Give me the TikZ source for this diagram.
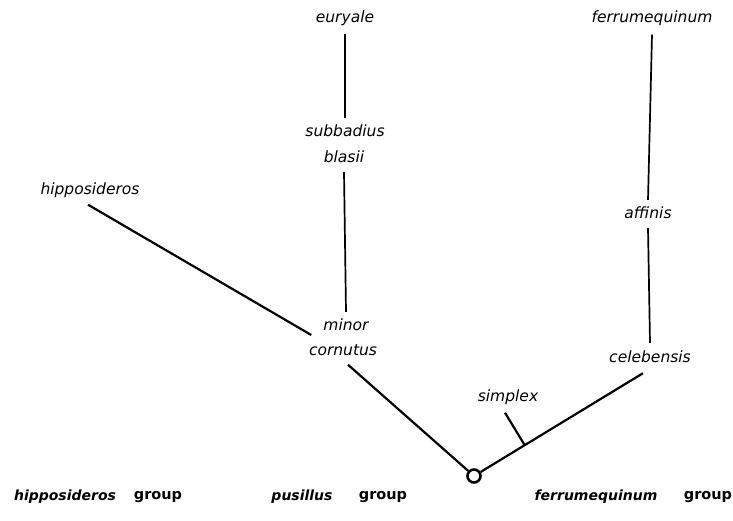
\documentclass[tikz,border=0pt]{standalone}
\usepackage{fontspec}
\setmainfont{DejaVu Sans}
\usetikzlibrary{calc}
\begin{document}
\begin{tikzpicture}[x=1pt,y=-1pt,
  lab/.style={inner sep=0pt,font=\fontsize{15.5}{17}\selectfont\itshape},
  grp/.style={inner sep=0pt,font=\fontsize{14}{16}\selectfont\bfseries\itshape},
  grpw/.style={inner sep=0pt,font=\fontsize{14.5}{16}\selectfont\bfseries},
  edge/.style={line width=2.2pt},
  vedge/.style={line width=1.7pt}]
\useasboundingbox (0,0) rectangle (733,521);
\node[lab] (eury) at (345,18) {euryale};
\node[lab] (subb) at (345,131) {subbadius};
\node[lab] (blas) at (344,157) {blasii};
\node[lab] (mino) at (346,325) {minor};
\node[lab] (corn) at (343,350) {cornutus};
\node[lab] (hipp) at (90,190) {hipposideros};
\node[lab] (ferr) at (652,18) {ferrumequinum};
\node[lab] (affi) at (648,213) {affinis};
\node[lab] (cele) at (650,357) {celebensis};
\node[lab] (simp) at (508,397) {simplex};
\node[circle,draw,line width=2.6pt,minimum size=13pt,inner sep=0pt] (root) at (474,476) {};
\node[grp] (g1) at (65,497) {hipposideros};
\node[grpw] (g1b) at (158,497) {group};
\node[grp] (g2) at (302,497) {pusillus};
\node[grpw] (g2b) at (383,497) {group};
\node[grp] (g3) at (596,497) {ferrumequinum};
\node[grpw] (g3b) at (708,497) {group};
% connectors
\draw[vedge] ([yshift=-8pt]eury.south) -- ([yshift=7pt]subb.north);
\draw[vedge] ([yshift=-9pt]blas.south) -- ([yshift=7pt]mino.north);
\draw[edge] ([xshift=-2pt,yshift=-7pt]hipp.south) -- ([xshift=-12pt,yshift=-10pt]mino.west);
\draw[edge] ([xshift=5pt,yshift=-9pt]corn.south) -- (root);
\coordinate (ce) at ([xshift=-7pt,yshift=-10pt]cele.south);
\draw[edge] (root) -- (ce);
\draw[edge] ([xshift=-3pt,yshift=-8pt]simp.south) -- ($(root)!0.3!(ce)$);
\draw[vedge] ([yshift=-9pt]ferr.south) -- ([yshift=7pt]affi.north);
\draw[vedge] ([yshift=-9pt]affi.south) -- ([yshift=8pt]cele.north);
\end{tikzpicture}
\end{document}
